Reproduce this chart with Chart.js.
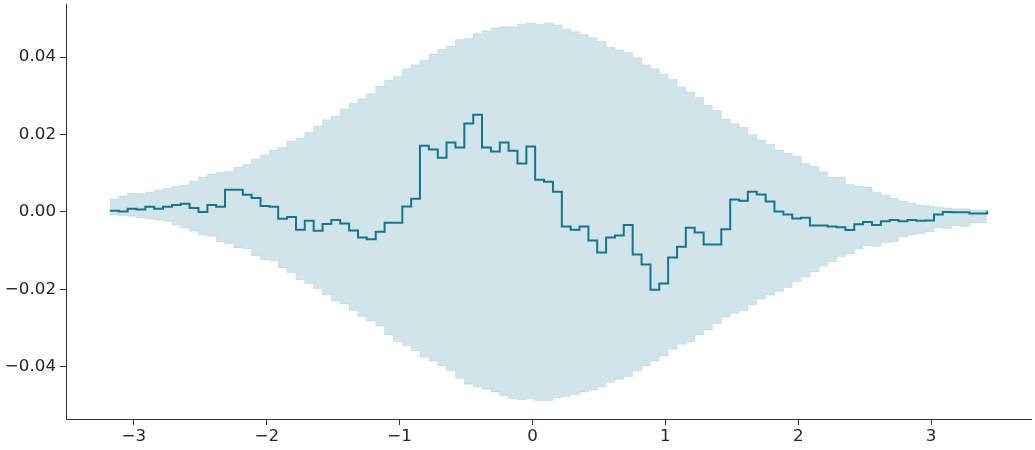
<!DOCTYPE html>
<html>
<head>
<meta charset="utf-8">
<script src="https://cdn.jsdelivr.net/npm/chart.js@4.4.1/dist/chart.umd.min.js"></script>
<style>
  html, body { margin: 0; padding: 0; background: #fff; }
  #wrap { width: 1035px; height: 450px; }
</style>
</head>
<body>
<div id="wrap"><canvas id="chart"></canvas></div>
<script>
// grid of the feature (x) and the values
const xs = [
  -3.181, -3.114, -3.047, -2.981, -2.914, -2.847, -2.781, -2.714, -2.647, -2.581,
  -2.514, -2.447, -2.381, -2.314, -2.247, -2.180, -2.114, -2.047, -1.980, -1.914,
  -1.847, -1.780, -1.714, -1.647, -1.580, -1.514, -1.447, -1.380, -1.313, -1.247,
  -1.180, -1.113, -1.047, -0.980, -0.913, -0.847, -0.780, -0.713, -0.647, -0.580,
  -0.513, -0.446, -0.380, -0.313, -0.246, -0.180, -0.113, -0.046, 0.020, 0.087,
  0.154, 0.221, 0.287, 0.354, 0.421, 0.487, 0.554, 0.621, 0.687, 0.754,
  0.821, 0.888, 0.954, 1.021, 1.088, 1.154, 1.221, 1.288, 1.354, 1.421,
  1.488, 1.555, 1.621, 1.688, 1.755, 1.821, 1.888, 1.955, 2.021, 2.088,
  2.155, 2.221, 2.288, 2.355, 2.422, 2.488, 2.555, 2.622, 2.688, 2.755,
  2.822, 2.888, 2.955, 3.022, 3.088, 3.155, 3.222, 3.289, 3.355, 3.422
];

const meanValues = [
  0.0003, 0.0001, 0.0008, 0.0006, 0.0013, 0.0008, 0.0013, 0.0018, 0.0021, 0.0010,
  0.0000, 0.0018, 0.0013, 0.0057, 0.0057, 0.0044, 0.0036, 0.0015, 0.0013, -0.0018,
  -0.0013, -0.0046, -0.0023, -0.0049, -0.0031, -0.0021, -0.0030, -0.0048, -0.0066, -0.0071,
  -0.0051, -0.0028, -0.0028, 0.0014, 0.0034, 0.0171, 0.0161, 0.0140, 0.0179, 0.0166,
  0.0228, 0.0251, 0.0166, 0.0156, 0.0179, 0.0158, 0.0125, 0.0169, 0.0083, 0.0078,
  0.0052, -0.0038, -0.0046, -0.0038, -0.0074, -0.0105, -0.0066, -0.0061, -0.0034, -0.0110,
  -0.0136, -0.0201, -0.0185, -0.0118, -0.0090, -0.0041, -0.0053, -0.0084, -0.0084, -0.0045,
  0.0032, 0.0029, 0.0052, 0.0045, 0.0027, 0.0001, -0.0007, -0.0017, -0.0015, -0.0035,
  -0.0035, -0.0038, -0.0040, -0.0047, -0.0032, -0.0026, -0.0034, -0.0024, -0.0021, -0.0024,
  -0.0021, -0.0023, -0.0022, -0.0007, 0.0000, -0.0001, -0.0001, -0.0004, -0.0004, 0.0003
];

const upperValues = [
  0.0033, 0.0041, 0.0048, 0.0047, 0.0051, 0.0056, 0.0061, 0.0066, 0.0069, 0.0079,
  0.0090, 0.0097, 0.0102, 0.0105, 0.0115, 0.0123, 0.0136, 0.0147, 0.0160, 0.0166,
  0.0183, 0.0190, 0.0205, 0.0222, 0.0238, 0.0247, 0.0266, 0.0280, 0.0292, 0.0305,
  0.0325, 0.0340, 0.0350, 0.0370, 0.0380, 0.0392, 0.0408, 0.0420, 0.0428, 0.0445,
  0.0448, 0.0460, 0.0467, 0.0475, 0.0478, 0.0478, 0.0485, 0.0488, 0.0485, 0.0488,
  0.0483, 0.0472, 0.0465, 0.0458, 0.0450, 0.0440, 0.0425, 0.0418, 0.0412, 0.0398,
  0.0380, 0.0370, 0.0355, 0.0342, 0.0322, 0.0310, 0.0295, 0.0275, 0.0262, 0.0240,
  0.0228, 0.0218, 0.0200, 0.0186, 0.0175, 0.0160, 0.0152, 0.0143, 0.0125, 0.0117,
  0.0104, 0.0090, 0.0090, 0.0071, 0.0066, 0.0064, 0.0051, 0.0043, 0.0035, 0.0028,
  0.0022, 0.0017, 0.0015, 0.0012, 0.0010, 0.0008, 0.0008, 0.0005, 0.0004, 0.0003
];

const lowerValues = [
  -0.0008, -0.0010, -0.0011, -0.0015, -0.0018, -0.0021, -0.0024, -0.0034, -0.0041, -0.0050,
  -0.0060, -0.0063, -0.0077, -0.0082, -0.0093, -0.0095, -0.0113, -0.0124, -0.0126, -0.0144,
  -0.0157, -0.0175, -0.0185, -0.0198, -0.0215, -0.0230, -0.0238, -0.0255, -0.0270, -0.0282,
  -0.0295, -0.0318, -0.0335, -0.0345, -0.0358, -0.0375, -0.0385, -0.0398, -0.0410, -0.0430,
  -0.0445, -0.0452, -0.0458, -0.0465, -0.0475, -0.0482, -0.0485, -0.0483, -0.0487, -0.0487,
  -0.0480, -0.0477, -0.0472, -0.0465, -0.0460, -0.0452, -0.0440, -0.0432, -0.0425, -0.0410,
  -0.0398, -0.0385, -0.0372, -0.0355, -0.0342, -0.0335, -0.0318, -0.0305, -0.0288, -0.0272,
  -0.0262, -0.0255, -0.0240, -0.0225, -0.0215, -0.0205, -0.0195, -0.0180, -0.0168, -0.0155,
  -0.0140, -0.0128, -0.0115, -0.0108, -0.0095, -0.0087, -0.0089, -0.0079, -0.0077, -0.0064,
  -0.0059, -0.0056, -0.0051, -0.0041, -0.0043, -0.0035, -0.0038, -0.0028, -0.0028, -0.0028
];

const xTicks = [-3, -2, -1, 0, 1, 2, 3];
const yTicks = [-0.04, -0.02, 0.00, 0.02, 0.04];

const LINE_COLOR = 'rgb(22,116,146)';
const BAND_COLOR = 'rgba(24,120,150,0.2)';
const BAND_EDGE = 'rgba(24,120,150,0.12)';
const AXIS_COLOR = '#333333';
const TEXT_COLOR = '#262626';

const toPoints = (vals) => vals.map((v, i) => ({ x: xs[i], y: v }));
const minus = (s) => s.replace('-', '\u2212');

const ctx = document.getElementById('chart');

// horizontal first, then vertical at the next x (like matplotlib steps-post)
const STEP = 'before';

new Chart(ctx, {
  type: 'line',
  data: {
    datasets: [
      {
        data: toPoints(meanValues),
        borderColor: LINE_COLOR,
        borderWidth: 2,
        pointRadius: 0,
        stepped: STEP,
        fill: false,
        order: 0,
      },
      {
        data: toPoints(upperValues),
        borderColor: BAND_EDGE,
        borderWidth: 1,
        backgroundColor: BAND_COLOR,
        pointRadius: 0,
        stepped: STEP,
        fill: '+1',
        order: 1,
      },
      {
        data: toPoints(lowerValues),
        borderColor: BAND_EDGE,
        borderWidth: 1,
        pointRadius: 0,
        stepped: STEP,
        fill: false,
        order: 2,
      },
    ],
  },
  options: {
    responsive: true,
    maintainAspectRatio: false,
    animation: false,
    layout: { padding: { top: 4, right: 4, left: 0, bottom: 0 } },
    plugins: { legend: { display: false }, tooltip: { enabled: false } },
    scales: {
      x: {
        type: 'linear',
        min: -3.511,
        max: 3.752,
        afterBuildTicks: (axis) => { axis.ticks = xTicks.map((v) => ({ value: v })); },
        afterFit: (axis) => {
          axis.height = 31;
          axis.paddingLeft = 0;
          axis.paddingRight = 0;
        },
        ticks: {
          color: TEXT_COLOR,
          font: { family: 'DejaVu Sans', size: 16.7 },
          padding: 2,
          maxRotation: 0,
          callback: (v) => minus(String(v)),
        },
        grid: { drawOnChartArea: false, drawTicks: true, tickLength: 6, color: AXIS_COLOR },
        border: { display: true, color: AXIS_COLOR, width: 1 },
      },
      y: {
        type: 'linear',
        min: -0.0535,
        max: 0.0537,
        afterBuildTicks: (axis) => { axis.ticks = yTicks.map((v) => ({ value: v })); },
        afterFit: (axis) => {
          axis.width = 66;
          axis.paddingTop = 0;
          axis.paddingBottom = 0;
        },
        ticks: {
          color: TEXT_COLOR,
          font: { family: 'DejaVu Sans', size: 16.7 },
          padding: 4,
          callback: (v) => minus(v.toFixed(2)),
        },
        grid: { drawOnChartArea: false, drawTicks: true, tickLength: 6, color: AXIS_COLOR },
        border: { display: true, color: AXIS_COLOR, width: 1 },
      },
    },
  },
});
</script>
</body>
</html>
